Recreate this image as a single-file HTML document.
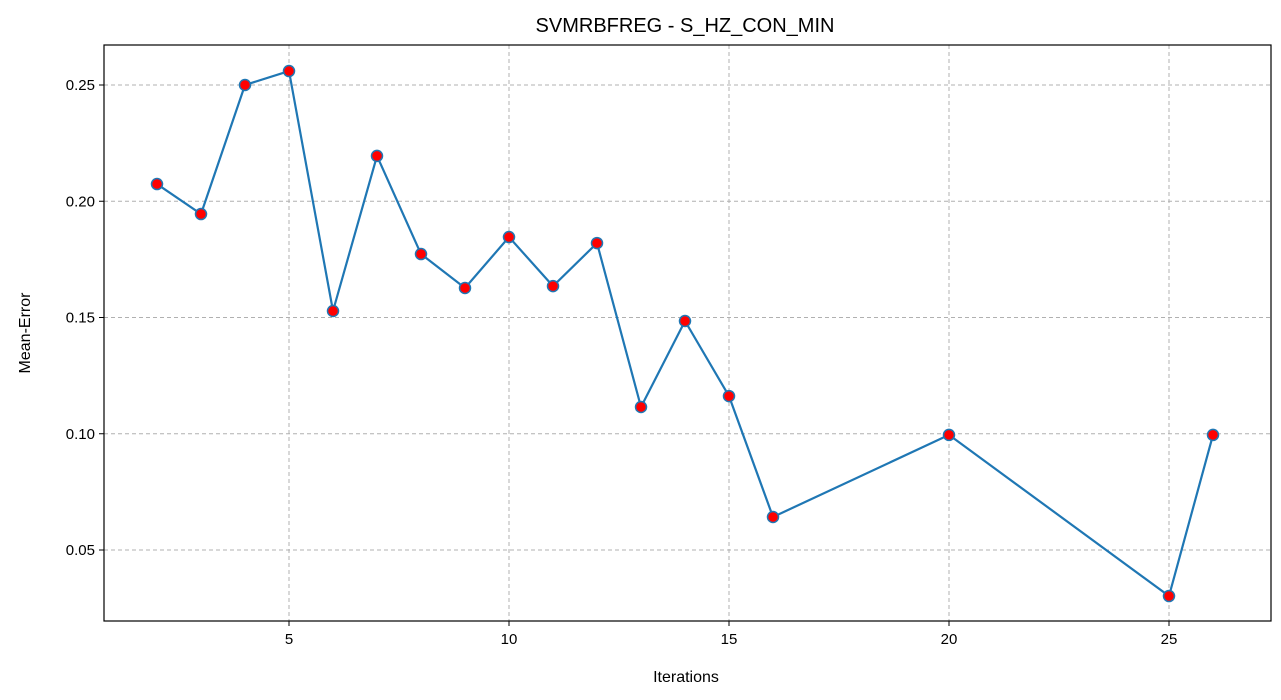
<!DOCTYPE html>
<html><head><meta charset="utf-8"><style>
body{margin:0;background:#fff;}
svg{display:block;font-family:"Liberation Sans","DejaVu Sans",sans-serif;}
</style></head><body>
<svg id="chart" width="1281" height="700">
<rect x="0" y="0" width="1281" height="700" fill="#fff"/>
<text x="685" y="32" font-size="20" text-anchor="middle">SVMRBFREG - S_HZ_CON_MIN</text>
<g id="grid"></g><g id="axes"></g><g id="series"></g>
<text x="686" y="682" font-size="16" text-anchor="middle">Iterations</text>
<text transform="translate(30,333) rotate(-90)" font-size="16" text-anchor="middle">Mean-Error</text>
</svg>
<script>
const iterations=[2,3,4,5,6,7,8,9,10,11,12,13,14,15,16,20,25,26];
const meanError=[0.2074,0.1945,0.25,0.256,0.1528,0.2195,0.1773,0.1627,0.1846,0.1635,0.182,0.1115,0.1485,0.1162,0.0642,0.0995,0.0302,0.0995];
const xTicks=[5,10,15,20,25];
const yTicks=[0.05,0.10,0.15,0.20,0.25];
const yTickLabels=["0.05","0.10","0.15","0.20","0.25"];
const L=104,R=1271,T=45,B=621;
const xs=v=>69+v*44;
const ys=v=>550-(v-0.05)*2325;
const NS="http://www.w3.org/2000/svg";
function mk(tag,attrs,parent){const e=document.createElementNS(NS,tag);for(const k in attrs)e.setAttribute(k,attrs[k]);parent.appendChild(e);return e;}
const grid=document.getElementById('grid'),axes=document.getElementById('axes'),series=document.getElementById('series');
xTicks.forEach(t=>{
 const g=mk('line',{x1:xs(t),x2:xs(t),y1:T,y2:B,stroke:'#b0b0b0','stroke-dasharray':'4,3'},grid);
 
 
 mk('line',{x1:xs(t),x2:xs(t),y1:B,y2:B+5,stroke:'#000'},axes);
 const tx=mk('text',{x:xs(t),y:B+23,'font-size':15,'text-anchor':'middle'},axes);
 tx.textContent=t;
 
 
});
yTicks.forEach((t,i)=>{
 const g=mk('line',{x1:L,x2:R,y1:ys(t),y2:ys(t),stroke:'#b0b0b0','stroke-dasharray':'4,3'},grid);
 
 
 mk('line',{x1:L-5,x2:L,y1:ys(t),y2:ys(t),stroke:'#000'},axes);
 const tx=mk('text',{x:L-9,y:ys(t)+5,'font-size':15,'text-anchor':'end'},axes);
 tx.textContent=yTickLabels[i];
 
 
});
const frame=mk('rect',{x:L,y:T,width:R-L,height:B-T,fill:'none',stroke:'#000','stroke-width':1.2},axes);


const line=mk('polyline',{points:iterations.map((x,i)=>xs(x)+','+ys(meanError[i])).join(' '),fill:'none',stroke:'#1f77b4','stroke-width':2.2},series);


iterations.forEach((x,i)=>{
 const c=mk('circle',{cx:xs(x),cy:ys(meanError[i]),r:5.5,fill:'#ff0000',stroke:'#1f77b4','stroke-width':1.5},series);
 
 
});
</script>
</body></html>
